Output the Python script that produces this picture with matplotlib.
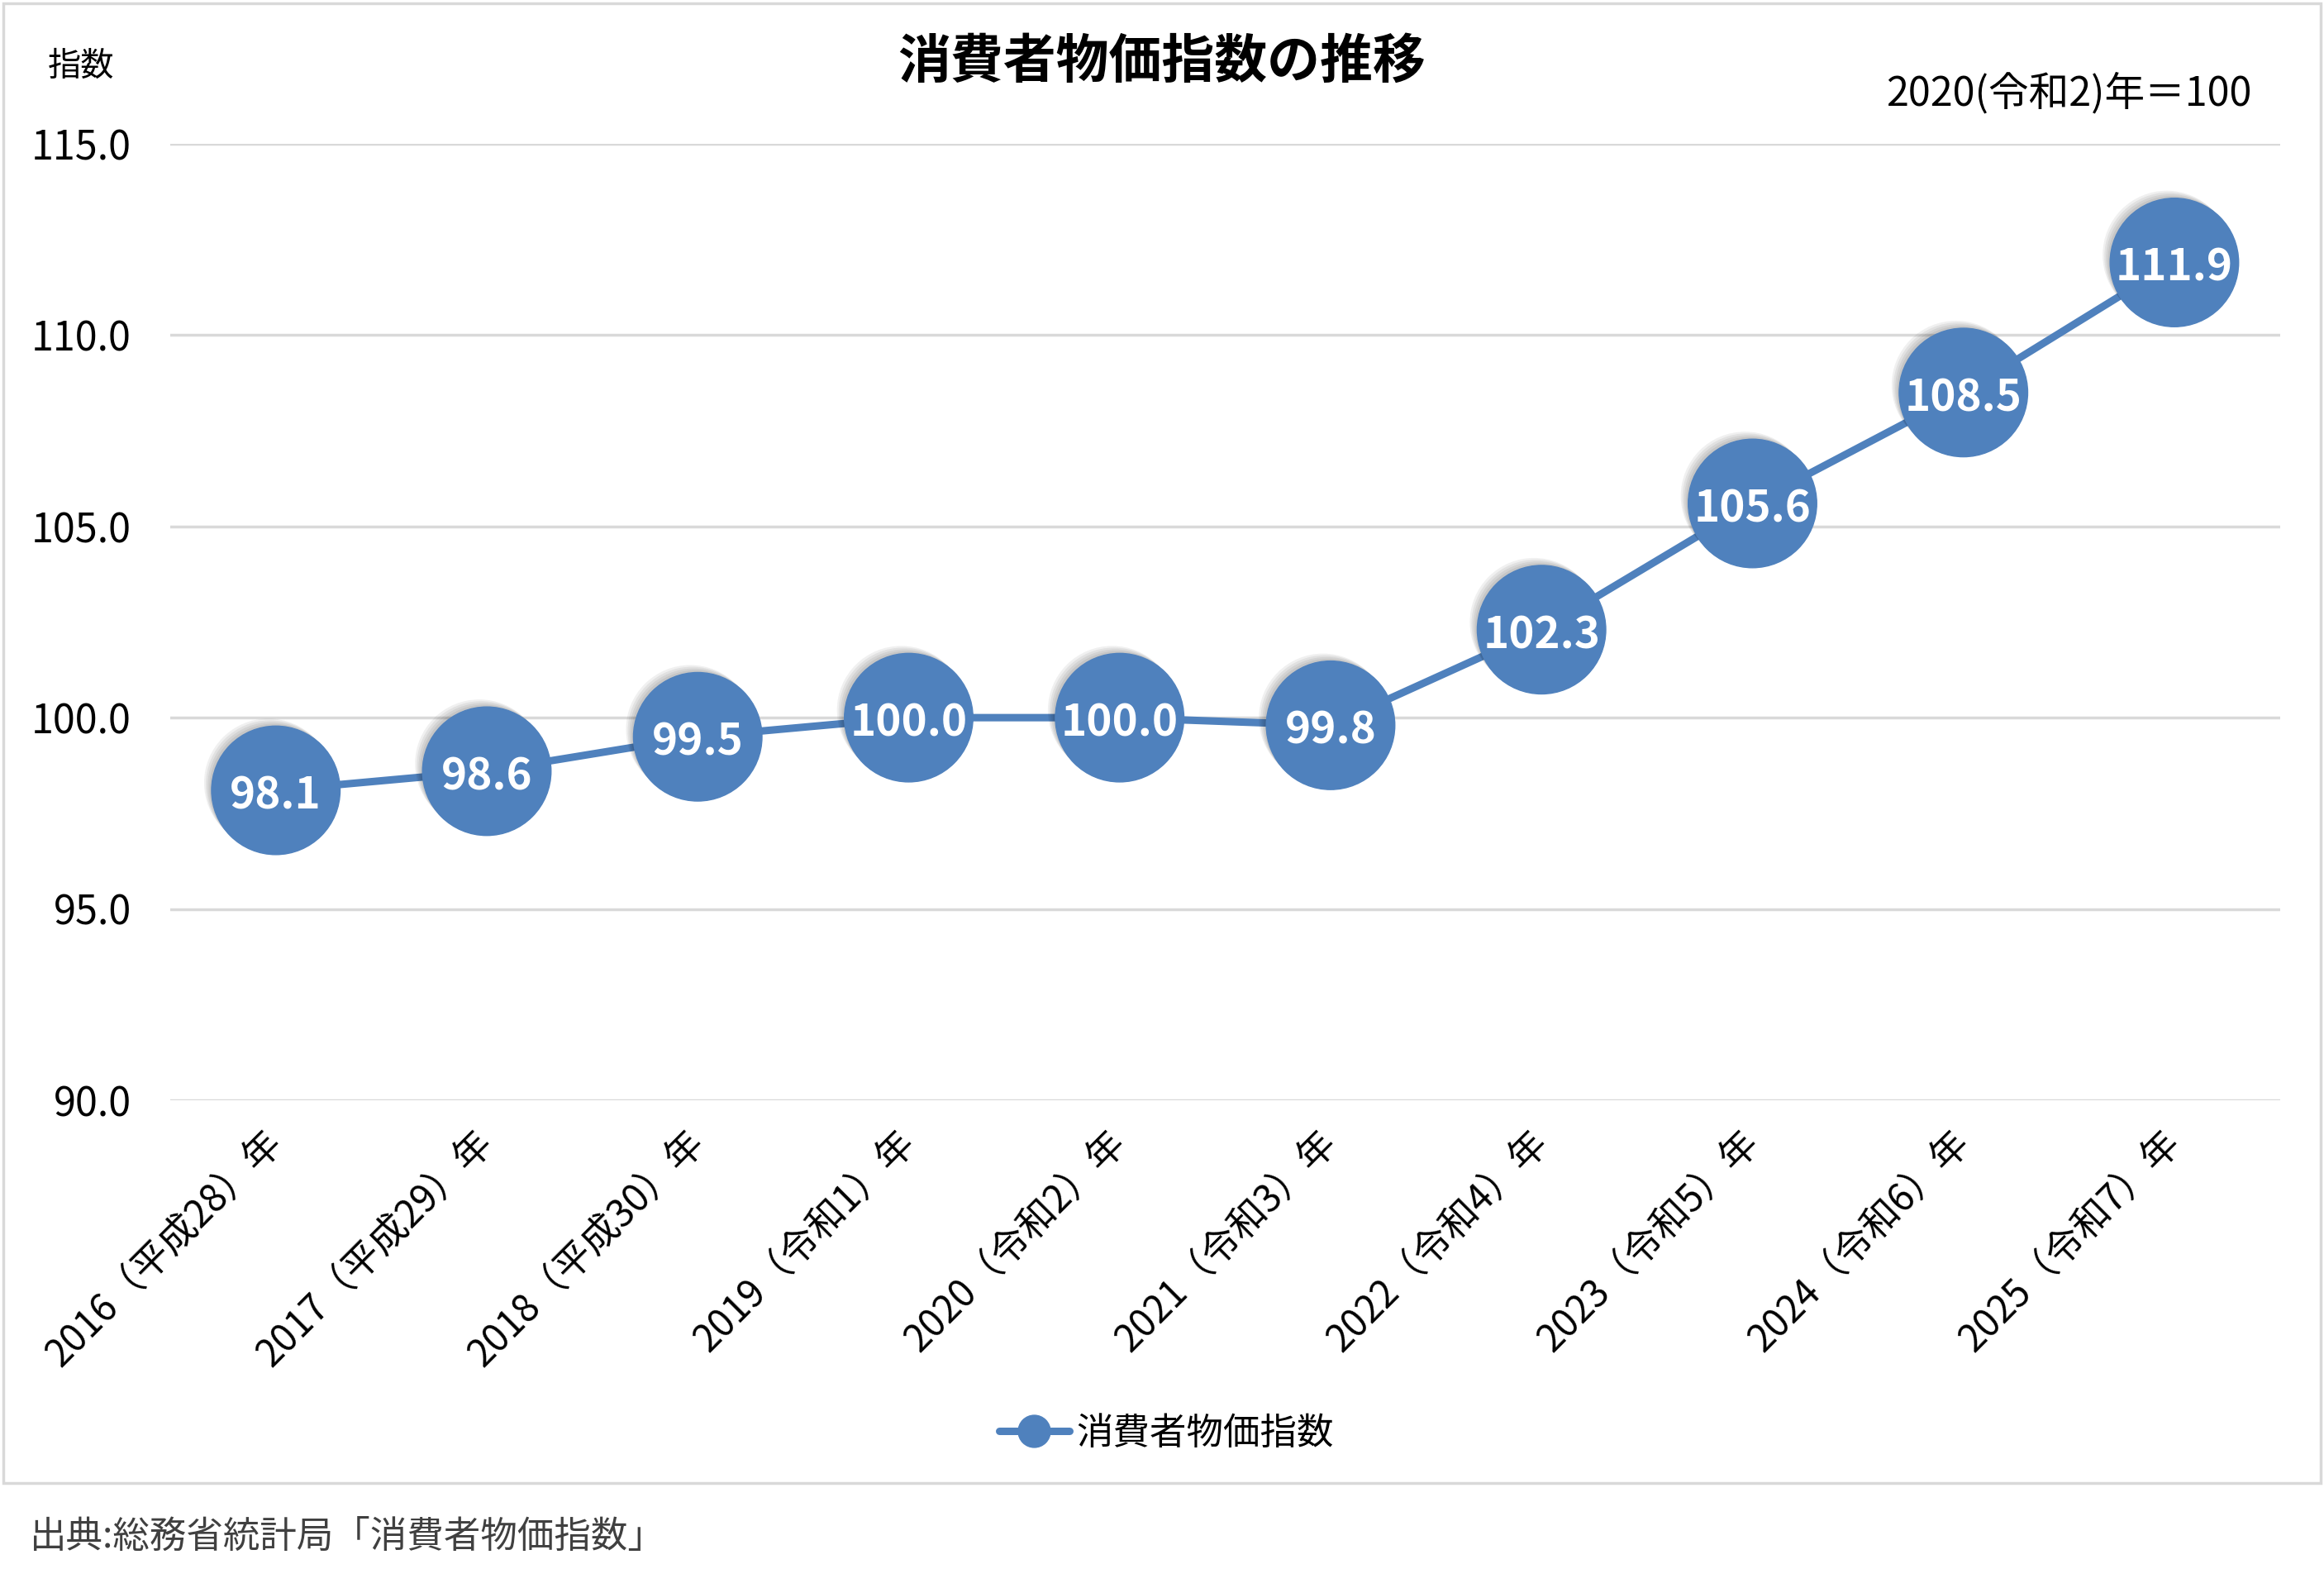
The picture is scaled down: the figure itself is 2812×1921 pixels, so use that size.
import matplotlib
matplotlib.use("Agg")
import matplotlib.pyplot as plt
import matplotlib.patheffects as pe
from matplotlib.patches import Rectangle
from matplotlib.lines import Line2D

plt.rcParams['font.family'] = ['Noto Sans CJK JP', 'DejaVu Sans']

categories = ["2016（平成28）年", "2017（平成29）年", "2018（平成30）年", "2019（令和1）年",
              "2020（令和2）年", "2021（令和3）年", "2022（令和4）年", "2023（令和5）年",
              "2024（令和6）年", "2025（令和7）年"]
values = [98.1, 98.6, 99.5, 100.0, 100.0, 99.8, 102.3, 105.6, 108.5, 111.9]
yticks = [90.0, 95.0, 100.0, 105.0, 110.0, 115.0]
series_name = "消費者物価指数"
title = "消費者物価指数の推移"
base_note = "2020(令和2)年＝100"
ylabel = "指数"
source = "出典:総務省統計局「消費者物価指数」"

blue = "#4F81BD"
grid = "#D9D9D9"

fig = plt.figure(figsize=(28.12, 19.21), dpi=100)
ax = fig.add_axes([0.0733, 0.3072, 0.9077, 0.6022])

xs = list(range(len(values)))
ax.plot(xs, values, color=blue, linewidth=6.5, zorder=3, solid_capstyle='round')
shadows = [pe.SimplePatchShadow(offset=(-d, d), shadow_rgbFace='black', alpha=0.06)
           for d in (2, 3.5, 5, 6.5)]
ax.plot(xs, values, linestyle='none', marker='o', markersize=112,
        markerfacecolor=blue, markeredgecolor=blue, zorder=4,
        path_effects=shadows + [pe.Normal()])

for x, v in zip(xs, values):
    ax.text(x, v - 0.15, f"{v:.1f}", ha='center', va='center', color='white', fontsize=38,
            fontweight='bold', zorder=5)

ax.set_xlim(-0.5, len(values) - 0.5)
ax.set_ylim(90, 115)
ax.set_yticks(yticks)
ax.set_yticklabels([f"{t:.1f}" for t in yticks], fontsize=35)
ax.set_xticks(xs)
ax.set_xticklabels(categories, rotation=45, ha='right', va='center', rotation_mode='anchor',
                   fontsize=33)
ax.tick_params(axis='both', length=0)
ax.tick_params(axis='y', pad=34)
ax.tick_params(axis='x', pad=32)
ax.grid(axis='y', color=grid, linewidth=2.5)
ax.set_axisbelow(True)
for s in ax.spines.values():
    s.set_visible(False)

fig.text(0.5, 0.961, title, ha='center', va='center', fontsize=46, fontweight='bold')
fig.text(0.035, 0.958, ylabel, ha='center', va='center', fontsize=29)
fig.text(0.969, 0.941, base_note, ha='right', va='center', fontsize=35)
fig.text(0.0128, 0.0322, source, ha='left', va='center', fontsize=32, color='#404040')

handle = Line2D([], [], color=blue, linewidth=6.5, marker='o', markersize=28,
                markerfacecolor=blue, markeredgecolor=blue, solid_capstyle='round')
fig.legend(handles=[handle], labels=[series_name], loc='center', bbox_to_anchor=(0.502, 0.0974),
           frameon=False, fontsize=32, handlelength=1.9, handletextpad=0.2)

fig.patches.append(Rectangle((0.0015, 0.0663), 0.997, 0.9317, transform=fig.transFigure,
                             fill=False, edgecolor=grid, linewidth=2.5))

fig.savefig("out.png", dpi=100, facecolor='white')
